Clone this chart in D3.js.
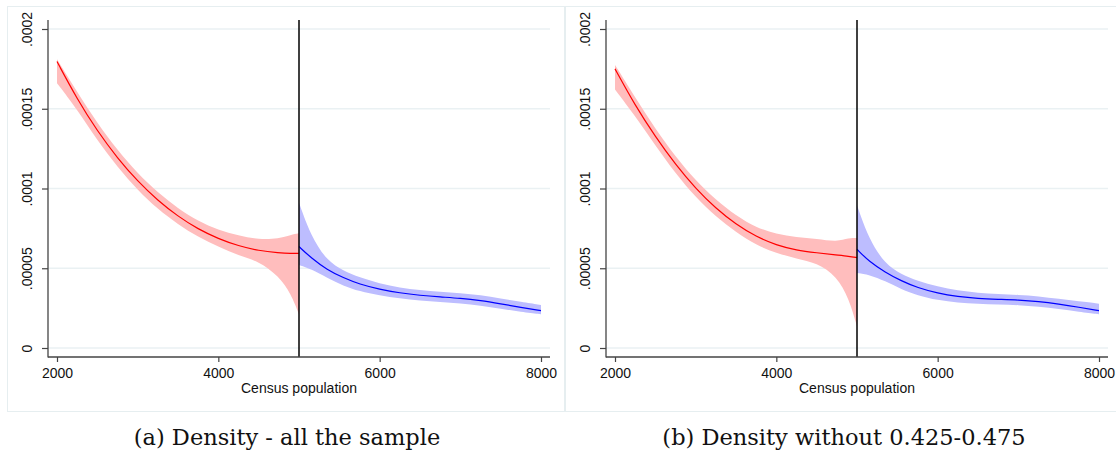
<!DOCTYPE html>
<html>
<head>
<meta charset="utf-8">
<script src="https://cdn.jsdelivr.net/npm/d3@7"></script>
<style>
  body { margin: 0; background: #fff; }
  svg { display: block; }
</style>
</head>
<body>
<script>
// Density values are in units of 1e-5 (axis labels show the real numbers)
var redPop = [2000, 2250, 2500, 2750, 3000, 3250, 3500, 3750, 4000, 4250, 4500, 4750, 4900, 5000];
var bluePop = [5000, 5150, 5350, 5550, 5750, 6000, 6250, 6500, 6750, 7000, 7250, 7500, 7750, 8000];

// (a) all the sample
var redA   = [17.96, 15.6, 13.6, 11.9, 10.45, 9.25, 8.25, 7.45, 6.85, 6.4, 6.1, 5.97, 5.93, 5.94];
var redLoA = [16.6, 14.95, 13.0, 11.35, 9.9, 8.7, 7.75, 6.95, 6.35, 5.8, 5.45, 4.5, 3.4, 2.1];
var redHiA = [18.1, 16.05, 14.1, 12.4, 10.95, 9.75, 8.75, 7.95, 7.4, 7.05, 6.8, 6.85, 7.1, 7.2];
var blueA   = [6.36, 5.65, 4.9, 4.4, 4.0, 3.68, 3.45, 3.3, 3.2, 3.12, 2.98, 2.77, 2.55, 2.34];
var blueLoA = [5.2, 4.95, 4.4, 3.9, 3.55, 3.3, 3.1, 2.97, 2.88, 2.8, 2.66, 2.46, 2.27, 2.12];
var blueHiA = [9.1, 7.0, 5.45, 4.85, 4.42, 4.05, 3.78, 3.62, 3.52, 3.45, 3.32, 3.1, 2.9, 2.7];

// (b) without 0.425-0.475
var redB   = [17.5, 15.2, 13.25, 11.5, 10.0, 8.75, 7.75, 6.98, 6.45, 6.13, 5.97, 5.83, 5.75, 5.67];
var redLoB = [16.2, 14.55, 12.7, 10.95, 9.45, 8.25, 7.25, 6.45, 5.95, 5.6, 5.35, 4.5, 3.1, 1.35];
var redHiB = [17.75, 15.7, 13.75, 12.0, 10.5, 9.3, 8.3, 7.55, 7.15, 6.95, 6.85, 6.65, 6.9, 6.9];
var blueB   = [6.19, 5.42, 4.75, 4.2, 3.78, 3.43, 3.22, 3.1, 3.05, 3.01, 2.92, 2.76, 2.56, 2.34];
var blueLoB = [4.7, 4.6, 4.2, 3.68, 3.3, 3.0, 2.85, 2.76, 2.72, 2.7, 2.6, 2.45, 2.27, 2.12];
var blueHiB = [8.95, 6.8, 5.25, 4.62, 4.2, 3.85, 3.6, 3.46, 3.38, 3.33, 3.25, 3.08, 2.92, 2.78];

var cutoff = 5000;
var xTicks = [2000, 4000, 6000, 8000];
var yTicks = [0, 5, 10, 15, 20];
var yTickLabels = ["0", ".00005", ".0001", ".00015", ".0002"];
var captions = ["(a) Density - all the sample", "(b) Density without 0.425-0.475"];

var width = 1116, height = 456;
var gridColor = "#eaf1f3";

var svg = d3.select("body").append("svg")
  .attr("width", width)
  .attr("height", height);

// panel frames
svg.append("rect").attr("x", 7.5).attr("y", 6.5).attr("width", 557).attr("height", 405)
  .attr("fill", "none").attr("stroke", "#e6eef0");
svg.append("rect").attr("x", 565.5).attr("y", 6.5).attr("width", 560).attr("height", 405)
  .attr("fill", "none").attr("stroke", "#e6eef0");

function zip(pop, v, lo, hi) {
  return pop.map(function(p, i) { return { pop: p, v: v[i], lo: lo[i], hi: hi[i] }; });
}

var panels = [
  { dx: 0, caption: captions[0],
    red: zip(redPop, redA, redLoA, redHiA), blue: zip(bluePop, blueA, blueLoA, blueHiA) },
  { dx: 558, caption: captions[1],
    red: zip(redPop, redB, redLoB, redHiB), blue: zip(bluePop, blueB, blueLoB, blueHiB) }
];

panels.forEach(function(p) {
  var g = svg.append("g").attr("transform", "translate(" + p.dx + ",0)");

  var x = d3.scaleLinear().domain([2000, 8000]).range([57, 541]);
  var y = d3.scaleLinear().domain([0, 20]).range([348, 29]);
  var plotLeft = 48, plotRight = 550, plotTop = 20, plotBottom = 357;

  // gridlines
  g.selectAll(".grid").data(yTicks).enter().append("line")
    .attr("x1", plotLeft).attr("x2", plotRight)
    .attr("y1", function(d) { return y(d); }).attr("y2", function(d) { return y(d); })
    .attr("stroke", gridColor).attr("stroke-width", 1.3);

  var area = d3.area()
    .x(function(d) { return x(d.pop); })
    .y0(function(d) { return y(d.lo); })
    .y1(function(d) { return y(d.hi); })
    .curve(d3.curveBasis);
  var line = d3.line()
    .x(function(d) { return x(d.pop); })
    .y(function(d) { return y(d.v); })
    .curve(d3.curveBasis);

  g.append("path").datum(p.red).attr("d", area).attr("fill", "#ffbdbd");
  g.append("path").datum(p.blue).attr("d", area).attr("fill", "#bdbdff");
  g.append("path").datum(p.red).attr("d", line)
    .attr("fill", "none").attr("stroke", "#ff0000").attr("stroke-width", 1.2);
  g.append("path").datum(p.blue).attr("d", line)
    .attr("fill", "none").attr("stroke", "#0000ff").attr("stroke-width", 1.2);

  // cutoff line
  g.append("line")
    .attr("x1", x(cutoff)).attr("x2", x(cutoff))
    .attr("y1", plotTop).attr("y2", plotBottom)
    .attr("stroke", "#000").attr("stroke-width", 1.5);

  // axes
  var xAxis = g.append("g")
    .attr("transform", "translate(0," + plotBottom + ")")
    .call(d3.axisBottom(x).tickValues(xTicks).tickSize(5).tickPadding(6).tickFormat(d3.format("d")));
  xAxis.select(".domain").remove();
  xAxis.selectAll(".tick line").attr("stroke", "#444").attr("stroke-width", 1.2);
  xAxis.selectAll(".tick text")
    .attr("font-family", "Liberation Sans, Arial, sans-serif")
    .attr("font-size", 14).attr("fill", "#111");

  var yAxis = g.append("g")
    .attr("transform", "translate(" + plotLeft + ",0)")
    .call(d3.axisLeft(y).tickValues(yTicks).tickSize(6)
      .tickFormat(function(d, i) { return yTickLabels[i]; }));
  yAxis.select(".domain").remove();
  yAxis.selectAll(".tick line").attr("stroke", "#444").attr("stroke-width", 1.2);
  yAxis.selectAll(".tick text")
    .attr("font-family", "Liberation Sans, Arial, sans-serif")
    .attr("font-size", 14).attr("fill", "#111")
    .attr("text-anchor", "middle")
    .attr("x", null).attr("dy", null)
    .attr("transform", "translate(-16,0) rotate(-90)");

  g.append("line")
    .attr("x1", plotLeft).attr("x2", plotLeft)
    .attr("y1", plotTop).attr("y2", plotBottom + 0.6)
    .attr("stroke", "#444").attr("stroke-width", 1.3);
  g.append("line")
    .attr("x1", plotLeft).attr("x2", plotRight)
    .attr("y1", plotBottom).attr("y2", plotBottom)
    .attr("stroke", "#444").attr("stroke-width", 1.3);

  g.append("text")
    .attr("x", (x(2000) + x(8000)) / 2).attr("y", 393)
    .attr("text-anchor", "middle")
    .attr("font-family", "Liberation Sans, Arial, sans-serif")
    .attr("font-size", 14).attr("fill", "#111")
    .text("Census population");

  g.append("text")
    .attr("x", p.dx === 0 ? 287 : 286).attr("y", 445)
    .attr("text-anchor", "middle")
    .attr("font-family", "DejaVu Serif, serif")
    .attr("font-size", 22.5).attr("fill", "#111")
    .text(p.caption);
});
</script>
</body>
</html>
